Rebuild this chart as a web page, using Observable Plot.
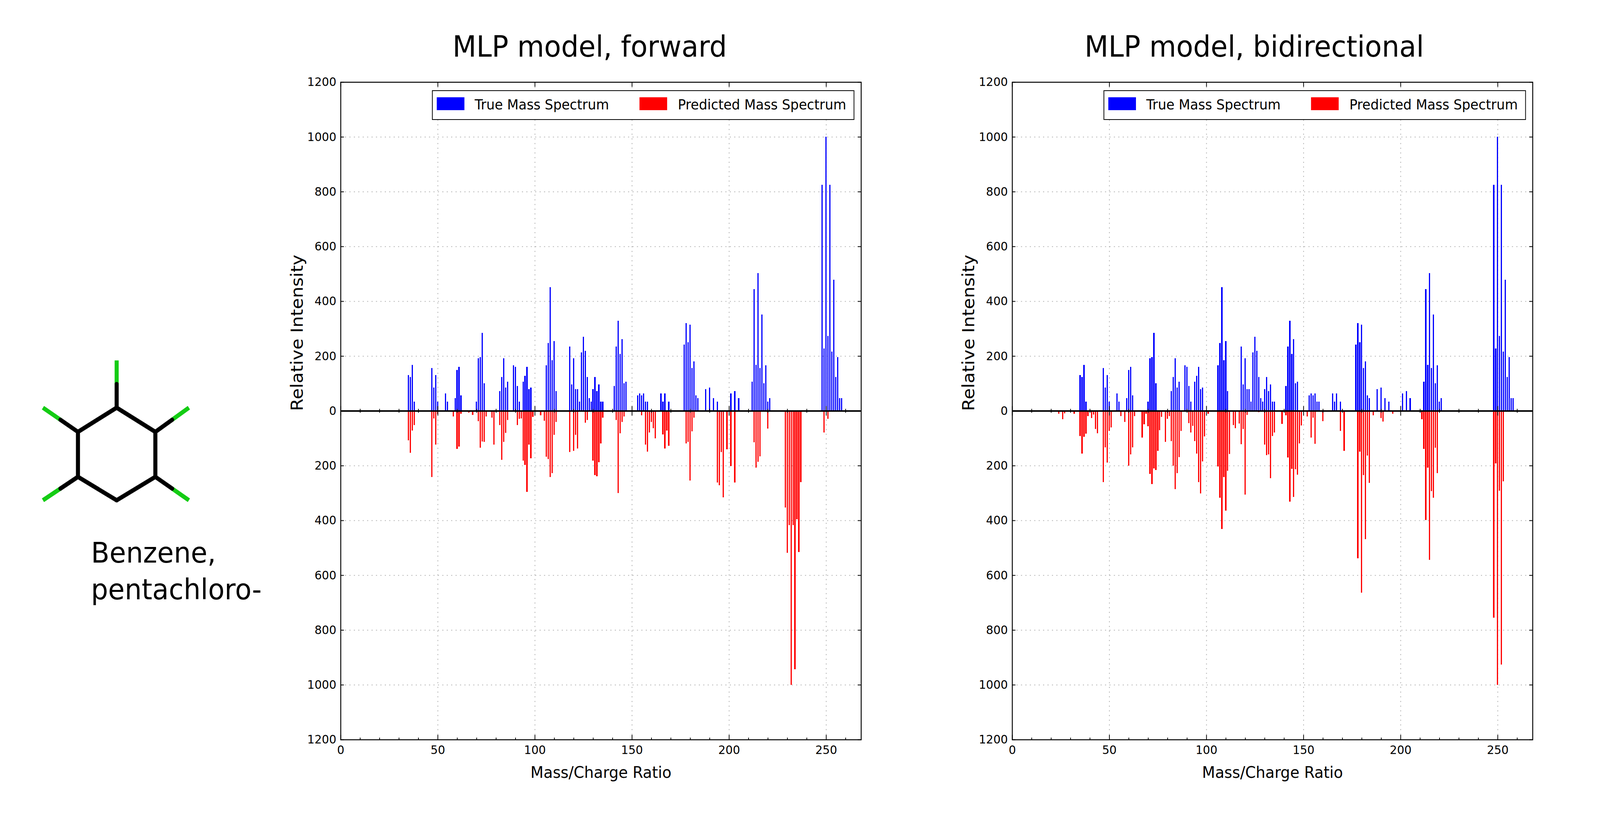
<!DOCTYPE html>
<html>
<head>
<meta charset="utf-8">
<script src="https://cdn.jsdelivr.net/npm/d3@7"></script>
<script src="https://cdn.jsdelivr.net/npm/@observablehq/plot@0.6"></script>
<style>
  html, body { margin: 0; padding: 0; background: #ffffff; overflow: hidden; }
  body { font-family: "DejaVu Sans", sans-serif; color: #000; }
  #page { position: absolute; left: 0; top: 0; width: 4341px; height: 2104px; transform-origin: 0 0; background: #fff; }
  .title { font-size: 75px; line-height: 75px; white-space: nowrap; text-align: center; width: 2000px; }
  .molname { font-size: 73px; line-height: 94px; white-space: nowrap; }
  .legend { border: 2.5px solid #000; box-sizing: border-box; background: #fff; width: 1146px; height: 76px; }
  .sw { position: absolute; width: 75px; height: 33px; top: 16px; }
  .lt { position: absolute; font-size: 36px; line-height: 36px; top: 17px; white-space: nowrap; }
</style>
</head>
<body>
<div id="page"></div>
<script>
// ---------- data ----------
const moleculeName = ["Benzene,", "pentachloro-"];
const titles = ["MLP model, forward", "MLP model, bidirectional"];
const legendLabels = ["True Mass Spectrum", "Predicted Mass Spectrum"];
const xLabel = "Mass/Charge Ratio";
const yLabel = "Relative Intensity";

const xTicks = [0, 50, 100, 150, 200, 250];
const xMinorTicks = [10, 20, 30, 40, 60, 70, 80, 90, 110, 120, 130, 140, 160, 170, 180, 190, 210, 220, 230, 240, 260];
const yTicks = [-1200, -1000, -800, -600, -400, -200, 0, 200, 400, 600, 800, 1000, 1200];
const yGrid = [-1000, -800, -600, -400, -200, 200, 400, 600, 800, 1000];

// true spectrum (shared by both panels)
const trueMz = [35,36,37,38, 47,48,49,50, 54,55, 59,60,61,62, 70,71,72,73,74, 82,83,84,85,86,
  89,90,91,92, 94,95,96,97,98, 106,107,108,109,110,111,
  118,119,120,121,122,123,124,125,126,127,128,129,130,131,132,133,134,135,
  141,142,143,144,145,146,147, 153,154,155,156,157,158, 165,166,167,169,
  177,178,179,180,181,182,183,184, 188,190,192,194, 201,203,205,
  212,213,214,215,216,217,218,219,220,221,
  248,249,250,251,252,253,254,255,256,257,258];
const trueInt = [131,123,168,34, 156,85,131,34, 64,34, 46,149,161,56, 34,192,196,285,101, 72,123,192,85,106,
  166,161,90,34, 106,128,161,79,85, 166,247,451,184,255,72,
  235,96,192,79,79,34,213,270,219,123,46,34,79,123,72,96,34,34,
  90,235,329,207,261,101,106, 56,64,56,64,34,34, 64,34,64,34,
  241,320,250,315,156,180,56,46, 79,85,46,34, 64,72,46,
  106,444,168,503,156,351,101,166,34,46,
  825,227,1000,273,825,216,478,123,196,46,46];

// predicted spectrum, forward model
const fwdMz = [35,36,37,38, 47,48,49,50, 58,60,61,62, 66,68, 71,72,73,74,75, 78,79,
  82,83,84,85,86, 91,92,93,94,95,96,97,98,99, 103,105,106,107,108,109,110,111,
  118,120,121,122,124, 126,127, 130,131,132,133,134,135,
  142,143,144,145,146, 155,157,158,159,160,161,162, 166,167,168,169,
  178,179,180,181,182, 194,195,196,197,199, 201,203,
  213,214,215,216,220, 229,230,231,232,233,234,235,236,237, 249,251];
const fwdInt = [108,153,72,52, 242,28,123,12, 21,139,130,11, 7,15, 38,135,112,114,20, 25,124,
  52,179,114,81,34, 52,29,28,182,198,296,124,173,22, 17,37,167,176,242,227,87,41,
  151,146,88,137,3, 43,34, 182,235,239,188,119,25,
  34,300,82,41,20, 16,124,149,79,41,64,100, 86,137,72,128,
  119,114,254,75,25, 261,271,151,316,141, 202,262,
  115,208,186,166,65, 353,518,417,1000,417,944,396,515,260, 79,29];

// predicted spectrum, bidirectional model
const biMz = [24,25,26,27,32, 35,36,37,38,39,41,42,43,44, 47,48,49,50,51, 56,58,60,61,62,63,
  67,68,69,70,71,72,73,74,75,76,77, 79,80,81,82,83,84,85,86,87,
  91,92,93,94,95,96,97,98,99, 101, 106,107,108,109,110,111,112,
  114,115,117,118,119,120,121, 127,130,131,132,133,134,135, 137,139,
  141,142,143,144,145,146,147,148,149, 152,154,155,156,160, 169,171,
  178,179,180,181,182,183,184, 186,190,191,196,
  211,212,213,214,215,216,217,218,219, 248,249,250,251,252,253];
const biInt = [10,4,30,9,11, 92,156,95,84,19,27,14,67,82, 260,133,189,73,60, 19,41,201,159,134,19,
  98,49,11,56,231,268,210,216,146,70,22, 114,29,19,110,201,286,228,169,74,
  45,79,55,110,156,260,301,184,94, 10, 203,317,432,242,365,219,157,
  52,64,47,122,66,306,15, 5,123,162,159,246,92,79, 4,48,
  16,170,331,212,315,213,233,119,54, 21,97,25,120,38, 74,146,
  538,149,664,234,469,163,263, 16,27,39,10,
  30,139,398,207,544,293,318,135,227, 755,192,1000,292,926,258];

// molecule geometry (ring carbons and chlorine atoms), in drawing units
const ringX = [0, 105, 105, 0, -105, -105];
const ringY = [119, 57, -58, -118, -58, 57];
const clFrom = [0, 1, 2, 4, 5];
const clX = [0, 196, 196, -200, -200];
const clY = [240, 119, -118, -118, 119];

// ---------- layout (in reference pixels; the page is scaled to the window) ----------
const PAGE_W = 4341, PAGE_H = 2104;
const page = document.getElementById("page");
const sx = window.innerWidth / PAGE_W;
const sy = window.innerHeight / PAGE_H;
page.style.transform = `scale(${sx}, ${sy})`;

const FRAME_W = 1412, FRAME_H = 1683;
const ML = 250, MR = 40, MT = 30, MB = 211;
const FRAME_TOP = 210;
const panels = [
  {frameLeft: 924, title: titles[0], titleCenter: 1600, predMz: fwdMz, predInt: fwdInt},
  {frameLeft: 2746, title: titles[1], titleCenter: 3403, predMz: biMz, predInt: biInt}
];

function add(el, left, top) {
  el.style.position = "absolute";
  el.style.left = left + "px";
  el.style.top = top + "px";
  page.appendChild(el);
  return el;
}

// ---------- molecule ----------
const ringBonds = ringX.map((x, i) => {
  const j = (i + 1) % ringX.length;
  return {x1: x, y1: ringY[i], x2: ringX[j], y2: ringY[j]};
});
const clBondsDark = clFrom.map((c, i) => ({x1: ringX[c], y1: ringY[c], x2: (ringX[c] + clX[i]) / 2, y2: (ringY[c] + clY[i]) / 2}));
const clBondsGreen = clFrom.map((c, i) => ({x1: (ringX[c] + clX[i]) / 2, y1: (ringY[c] + clY[i]) / 2, x2: clX[i], y2: clY[i]}));

const mol = Plot.plot({
  width: 560, height: 560,
  marginLeft: 0, marginRight: 0, marginTop: 0, marginBottom: 0,
  x: {domain: [-280, 280], axis: null},
  y: {domain: [-280, 280], axis: null},
  style: {background: "transparent"},
  marks: [
    Plot.link(clBondsGreen, {x1: "x1", y1: "y1", x2: "x2", y2: "y2", stroke: "#14cc14", strokeWidth: 11, strokeLinecap: "butt"}),
    Plot.link(clBondsDark, {x1: "x1", y1: "y1", x2: "x2", y2: "y2", stroke: "#000", strokeWidth: 11, strokeLinecap: "round"}),
    Plot.link(ringBonds, {x1: "x1", y1: "y1", x2: "x2", y2: "y2", stroke: "#000", strokeWidth: 11, strokeLinecap: "round"})
  ]
});
add(mol, 316 - 280, 1162 - 280);

const nameDiv = document.createElement("div");
nameDiv.className = "molname";
nameDiv.innerHTML = moleculeName.join("<br>");
add(nameDiv, 247, 1368);

// ---------- spectrum panels ----------
function spectrumChart(predMz, predInt) {
  const trueData = trueMz.map((m, i) => ({mz: m, v: trueInt[i]}));
  const predData = predMz.map((m, i) => ({mz: m, v: -predInt[i]}));
  const half = FRAME_H / 2;
  return Plot.plot({
    width: ML + FRAME_W + MR, height: MT + FRAME_H + MB,
    marginLeft: ML, marginRight: MR, marginTop: MT, marginBottom: MB,
    style: {fontFamily: "DejaVu Sans", fontSize: "31px", background: "transparent", color: "#000"},
    x: {domain: [0, 268]},
    y: {domain: [-1200, 1200]},
    marks: [
      Plot.gridX(xTicks.slice(1), {stroke: "#b4b4b4", strokeOpacity: 1, strokeWidth: 2, strokeDasharray: "3,9"}),
      Plot.gridY(yGrid, {stroke: "#b4b4b4", strokeOpacity: 1, strokeWidth: 2, strokeDasharray: "3,9"}),
      Plot.rect(trueData, {x1: d => d.mz - 0.33, x2: d => d.mz + 0.33, y1: 0, y2: "v", fill: "#0000ff", shapeRendering: "crispEdges"}),
      Plot.rect(predData, {x1: d => d.mz - 0.33, x2: d => d.mz + 0.33, y1: 0, y2: "v", fill: "#ff0000", shapeRendering: "crispEdges"}),
      // inward ticks: bottom, top, zero line, left, right
      Plot.ruleX(xTicks, {insetTop: FRAME_H - 12, stroke: "#000", strokeWidth: 2}),
      Plot.ruleX(xMinorTicks, {insetTop: FRAME_H - 5, stroke: "#000", strokeWidth: 2}),
      Plot.ruleX(xTicks, {insetBottom: FRAME_H - 12, stroke: "#000", strokeWidth: 2}),
      Plot.ruleX(xTicks, {insetTop: half - 12, insetBottom: half - 12, stroke: "#000", strokeWidth: 2}),
      Plot.ruleX(xMinorTicks, {insetTop: half - 5, insetBottom: half - 5, stroke: "#000", strokeWidth: 2}),
      Plot.ruleY(yTicks, {insetRight: FRAME_W - 9, stroke: "#000", strokeWidth: 2}),
      Plot.ruleY(yTicks, {insetLeft: FRAME_W - 9, stroke: "#000", strokeWidth: 2}),
      Plot.ruleY([0], {stroke: "#000", strokeWidth: 4}),
      Plot.frame({stroke: "#000", strokeWidth: 2.5}),
      Plot.axisX({ticks: xTicks, tickFormat: d => String(d), tickSize: 0, tickPadding: 14, fontSize: 31, label: null}),
      Plot.axisY({ticks: yTicks, tickFormat: d => String(Math.abs(d)), tickSize: 0, tickPadding: 12, fontSize: 31, label: null}),
      Plot.text([xLabel], {frameAnchor: "bottom", dy: 97, lineAnchor: "bottom", fontSize: 41}),
      Plot.text([yLabel], {frameAnchor: "left", dx: -118, rotate: -90, fontSize: 46})
    ]
  });
}

panels.forEach(p => {
  const chart = spectrumChart(p.predMz, p.predInt);
  add(chart, p.frameLeft - ML, FRAME_TOP - MT);

  const t = document.createElement("div");
  t.className = "title";
  t.textContent = p.title;
  add(t, p.titleCenter - 1000, 82);

  const lg = document.createElement("div");
  lg.className = "legend";
  lg.innerHTML =
    `<div class="sw" style="left:11px;background:#0000ff"></div>` +
    `<div class="lt" style="left:114px">${legendLabels[0]}</div>` +
    `<div class="sw" style="left:561px;background:#ff0000"></div>` +
    `<div class="lt" style="left:665px">${legendLabels[1]}</div>`;
  add(lg, p.frameLeft + 248, 231);
});
</script>
</body>
</html>
